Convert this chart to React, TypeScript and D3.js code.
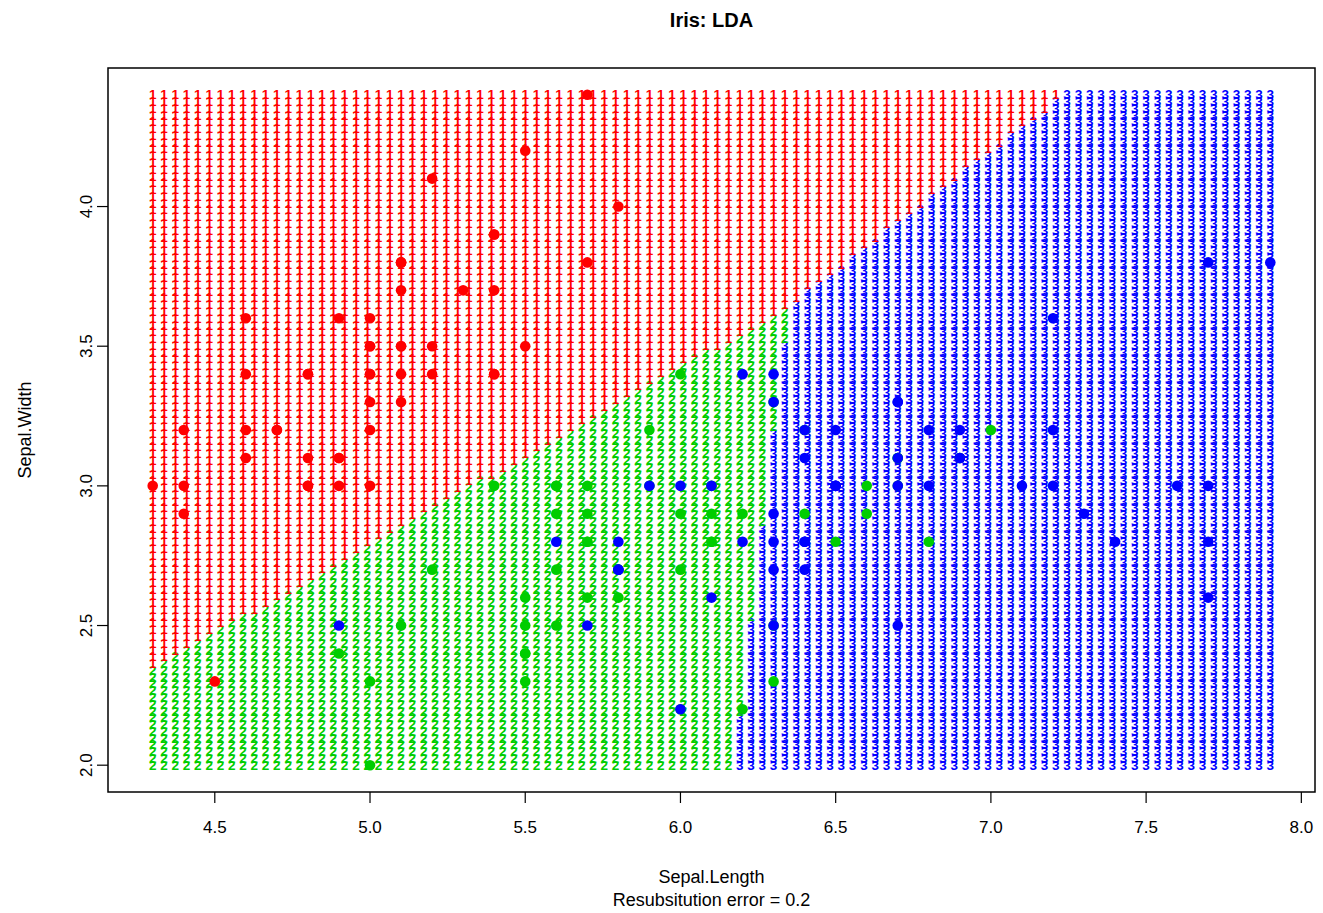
import React from "react";
import * as d3 from "d3";

// iris: Sepal.Length / Sepal.Width by species
const setosaLength = [5.1, 4.9, 4.7, 4.6, 5.0, 5.4, 4.6, 5.0, 4.4, 4.9, 5.4, 4.8, 4.8, 4.3, 5.8, 5.7, 5.4, 5.1, 5.7, 5.1, 5.4, 5.1, 4.6, 5.1, 4.8, 5.0, 5.0, 5.2, 5.2, 4.7, 4.8, 5.4, 5.2, 5.5, 4.9, 5.0, 5.5, 4.9, 4.4, 5.1, 5.0, 4.5, 4.4, 5.0, 5.1, 4.8, 5.1, 4.6, 5.3, 5.0];
const setosaWidth = [3.5, 3.0, 3.2, 3.1, 3.6, 3.9, 3.4, 3.4, 2.9, 3.1, 3.7, 3.4, 3.0, 3.0, 4.0, 4.4, 3.9, 3.5, 3.8, 3.8, 3.4, 3.7, 3.6, 3.3, 3.4, 3.0, 3.4, 3.5, 3.4, 3.2, 3.1, 3.4, 4.1, 4.2, 3.1, 3.2, 3.5, 3.6, 3.0, 3.4, 3.5, 2.3, 3.2, 3.5, 3.8, 3.0, 3.8, 3.2, 3.7, 3.3];
const versicolorLength = [7.0, 6.4, 6.9, 5.5, 6.5, 5.7, 6.3, 4.9, 6.6, 5.2, 5.0, 5.9, 6.0, 6.1, 5.6, 6.7, 5.6, 5.8, 6.2, 5.6, 5.9, 6.1, 6.3, 6.1, 6.4, 6.6, 6.8, 6.7, 6.0, 5.7, 5.5, 5.5, 5.8, 6.0, 5.4, 6.0, 6.7, 6.3, 5.6, 5.5, 5.5, 6.1, 5.8, 5.0, 5.6, 5.7, 5.7, 6.2, 5.1, 5.7];
const versicolorWidth = [3.2, 3.2, 3.1, 2.3, 2.8, 2.8, 3.3, 2.4, 2.9, 2.7, 2.0, 3.0, 2.2, 2.9, 2.9, 3.1, 3.0, 2.7, 2.2, 2.5, 3.2, 2.8, 2.5, 2.8, 2.9, 3.0, 2.8, 3.0, 2.9, 2.6, 2.4, 2.4, 2.7, 2.7, 3.0, 3.4, 3.1, 2.3, 3.0, 2.5, 2.6, 3.0, 2.6, 2.3, 2.7, 3.0, 2.9, 2.9, 2.5, 2.8];
const virginicaLength = [6.3, 5.8, 7.1, 6.3, 6.5, 7.6, 4.9, 7.3, 6.7, 7.2, 6.5, 6.4, 6.8, 5.7, 5.8, 6.4, 6.5, 7.7, 7.7, 6.0, 6.9, 5.6, 7.7, 6.3, 6.7, 7.2, 6.2, 6.1, 6.4, 7.2, 7.4, 7.9, 6.4, 6.3, 6.1, 7.7, 6.3, 6.4, 6.0, 6.9, 6.7, 6.9, 5.8, 6.8, 6.7, 6.7, 6.3, 6.5, 6.2, 5.9];
const virginicaWidth = [3.3, 2.7, 3.0, 2.9, 3.0, 3.0, 2.5, 2.9, 2.5, 3.6, 3.2, 2.7, 3.0, 2.5, 2.8, 3.2, 3.0, 3.8, 2.6, 2.2, 3.2, 2.8, 2.8, 2.7, 3.3, 3.2, 2.8, 3.0, 2.8, 3.0, 2.8, 3.8, 2.8, 2.8, 2.6, 3.0, 3.4, 3.1, 3.0, 3.1, 3.1, 3.1, 2.7, 3.2, 3.3, 3.0, 2.5, 3.0, 3.4, 3.0];

// decision boundaries (they meet in one point)
const boundaryRedGreen = [[4.3, 2.35], [6.35, 3.65]];
const boundaryRedBlue = [[6.35, 3.65], [7.23, 4.4]];
const boundaryGreenBlue = [[6.35, 3.65], [6.17, 2.0]];

const xTicks = [4.5, 5.0, 5.5, 6.0, 6.5, 7.0, 7.5, 8.0];
const yTicks = [2.0, 2.5, 3.0, 3.5, 4.0];

const classColors = ["#FF0000", "#00CD00", "#0000FF"];
const classGlyphs = ["1", "2", "3"];

const W = 1323;
const H = 913;
const box = { left: 108, right: 1315, top: 68, bottom: 792 };
const font = "'Liberation Sans', Arial, Helvetica, sans-serif";

const lineY = (seg: number[][], x: number) =>
  seg[0][1] + ((x - seg[0][0]) * (seg[1][1] - seg[0][1])) / (seg[1][0] - seg[0][0]);
const lineX = (seg: number[][], y: number) =>
  seg[0][0] + ((y - seg[0][1]) * (seg[1][0] - seg[0][0])) / (seg[1][1] - seg[0][1]);

const classify = (x: number, y: number) => {
  const px = boundaryRedGreen[1][0];
  const redLimit = x <= px ? lineY(boundaryRedGreen, x) : lineY(boundaryRedBlue, x);
  if (y > redLimit) return 0;
  return x < lineX(boundaryGreenBlue, y) ? 1 : 2;
};

export default function App() {
  const xScale = d3.scaleLinear().domain([4.156, 8.044]).range([box.left, box.right]);
  const yScale = d3.scaleLinear().domain([1.904, 4.496]).range([box.bottom, box.top]);

  // prediction grid, prec = 100 over the data range
  const prec = 100;
  const gx = d3.range(prec).map((i) => 4.3 + (i * (7.9 - 4.3)) / (prec - 1));
  const gy = d3.range(prec).map((i) => 2.0 + (i * (4.4 - 2.0)) / (prec - 1));
  const grid: { x: number; y: number; c: number }[] = [];
  gx.forEach((x) => gy.forEach((y) => grid.push({ x, y, c: classify(x, y) })));

  const points = [
    ...setosaLength.map((x, i) => ({ x, y: setosaWidth[i], c: 0 })),
    ...versicolorLength.map((x, i) => ({ x, y: versicolorWidth[i], c: 1 })),
    ...virginicaLength.map((x, i) => ({ x, y: virginicaWidth[i], c: 2 })),
  ];

  return (
    <svg width={W} height={H} style={{ display: "block", position: "absolute", left: 0, top: 0, background: "#fff" }} fontFamily={font}>
      <rect width={W} height={H} fill="#fff" />
      <g fontSize={13.5} fontWeight="bold" textAnchor="middle" dominantBaseline="central">
        {grid.map((d, i) => (
          <text key={i} x={xScale(d.x)} y={yScale(d.y)} fill={classColors[d.c]}>
            {classGlyphs[d.c]}
          </text>
        ))}
      </g>
      {points.map((d, i) => (
        <circle key={i} cx={xScale(d.x)} cy={yScale(d.y)} r={5.3} fill={classColors[d.c]} />
      ))}
      <rect x={box.left} y={box.top} width={box.right - box.left} height={box.bottom - box.top} fill="none" stroke="#000" strokeWidth={1.5} />
      {xTicks.map((t) => (
        <g key={t}>
          <line x1={xScale(t)} x2={xScale(t)} y1={box.bottom} y2={box.bottom + 11} stroke="#000" strokeWidth={1.2} />
          <text x={xScale(t)} y={827} fontSize={17} textAnchor="middle" dominantBaseline="central">
            {t.toFixed(1)}
          </text>
        </g>
      ))}
      {yTicks.map((t) => (
        <g key={t}>
          <line x1={box.left - 11} x2={box.left} y1={yScale(t)} y2={yScale(t)} stroke="#000" strokeWidth={1.2} />
          <text transform={`translate(86,${yScale(t)}) rotate(-90)`} fontSize={17} textAnchor="middle" dominantBaseline="central">
            {t.toFixed(1)}
          </text>
        </g>
      ))}
      <text x={(box.left + box.right) / 2} y={20} fontSize={20} fontWeight="bold" textAnchor="middle" dominantBaseline="central">
        Iris: LDA
      </text>
      <text x={(box.left + box.right) / 2} y={877} fontSize={18} textAnchor="middle" dominantBaseline="central">
        Sepal.Length
      </text>
      <text x={(box.left + box.right) / 2} y={900} fontSize={18} textAnchor="middle" dominantBaseline="central">
        Resubsitution error = 0.2
      </text>
      <text transform={`translate(25,${(box.top + box.bottom) / 2}) rotate(-90)`} fontSize={18} textAnchor="middle" dominantBaseline="central">
        Sepal.Width
      </text>
    </svg>
  );
}
